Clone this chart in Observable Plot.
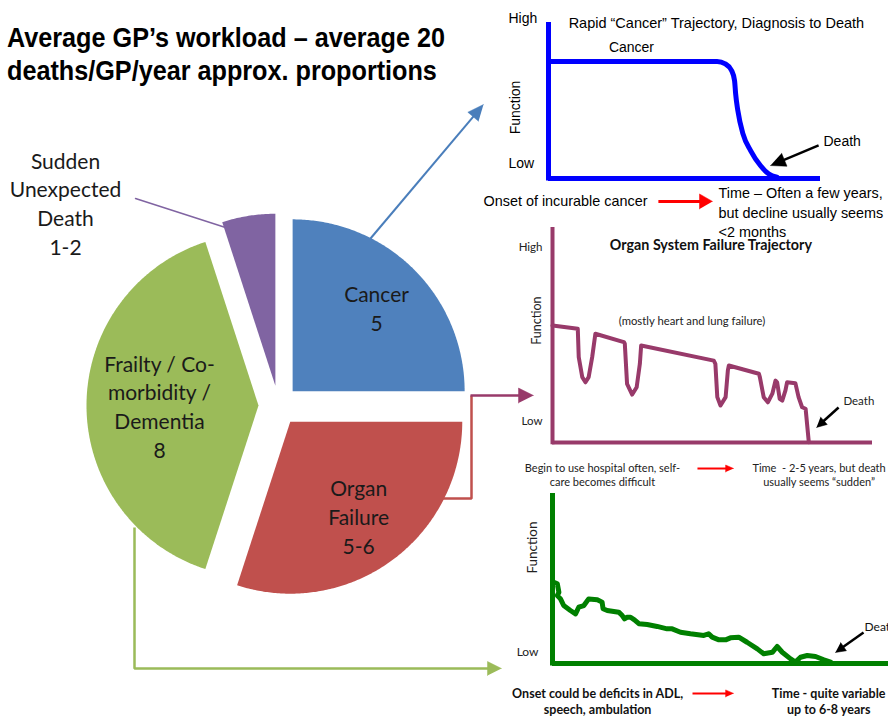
<!DOCTYPE html>
<html><head><meta charset="utf-8">
<script src="https://cdn.jsdelivr.net/npm/d3@7"></script>
<script src="https://cdn.jsdelivr.net/npm/@observablehq/plot@0.6"></script>
<style>
html,body{margin:0;padding:0;background:#fff;}
#root{position:relative;width:888px;height:718px;overflow:hidden;background:#fff;}
.layer{position:absolute;}
#title{position:absolute;left:7px;top:21px;font-family:"Liberation Sans",Arial,sans-serif;font-weight:bold;font-size:28px;line-height:33px;color:#000;transform:scaleX(0.9);transform-origin:0 0;white-space:nowrap;}
</style></head><body>
<div id="root">
  <div id="bg" class="layer" style="left:0;top:0;width:888px;height:718px"></div>
  <div id="title">Average GP’s workload – average 20<br>deaths/GP/year approx. proportions</div>
  <div id="cancer" class="layer" style="left:480px;top:0;width:408px;height:240px"></div>
  <div id="organ" class="layer" style="left:490px;top:220px;width:398px;height:270px"></div>
  <div id="frailty" class="layer" style="left:490px;top:488px;width:398px;height:230px"></div>
</div>
<script>
// ---------------- DATA ----------------
const categories = ["Cancer", "Organ Failure", "Frailty / Co-morbidity / Dementia", "Sudden Unexpected Death"];
const deathsPerGP = [5, 6, 8, 1];
const rangeLabels = ["5", "5-6", "8", "1-2"];
const sliceLabelLines = [["Cancer"], ["Organ", "Failure"], ["Frailty / Co-", "morbidity /", "Dementia"], ["Sudden", "Unexpected", "Death"]];
const sliceColors = ["#4F81BD", "#C0504D", "#9BBB59", "#8064A2"];

// Cancer trajectory (time 0-100, function 0-100)
const cancerTime     = [0, 62, 65, 67.3, 68.4, 68.8, 69.6, 71.5, 74.3, 77.9, 80.9, 84];
const cancerFunction = [75, 75, 73.5, 69.2, 62.8, 54.3, 43.6, 28.6, 17.9, 8.3, 3.0, 0.8];
const cancerTickLabels = ["High", "Low"];
const cancerTickValues = [102.6, 9.6];

// Organ system failure trajectory
const organTime     = [0, 7.9, 8.2, 9.3, 10.3, 11.3, 12.4, 13.4, 22.3, 22.6, 23.3, 24.9, 26.3, 27.3, 27.7, 50.4, 50.9, 51.5, 52.5, 54.1, 54.8, 55.1, 64.5, 64.8, 66.0, 67.3, 68.7, 69.7, 70.2, 71.0, 71.8, 72.8, 73.3, 75.9, 76.9, 78.0, 79.1, 80.1];
const organFunction = [54.4, 52.9, 39.7, 30.4, 28.0, 30.4, 39.7, 50.6, 46.7, 45.9, 27.3, 22.3, 25.7, 36.6, 45.1, 38.1, 36.6, 21.1, 17.2, 21.1, 33.5, 35.8, 32.0, 30.4, 21.1, 18.7, 22.7, 28.8, 28.0, 20.3, 19.5, 24.2, 28.0, 27.6, 21.1, 16.4, 15.7, 0.1];
const organTickLabels = ["High", "Low"];
const organTickValues = [90.7, 9.8];

// Frailty trajectory
const frailTime     = [0.4, 1.5, 2.0, 1.5, 2.5, 3.5, 5.6, 7.2, 8.2, 9.8, 11.3, 14.0, 15.5, 15.8, 17.1, 20.7, 21.8, 22.5, 23.3, 24.4, 25.6, 27.0, 29.6, 32.7, 35.8, 37.4, 40.0, 43.1, 47.3, 48.8, 49.9, 52.0, 54.1, 55.6, 58.2, 60.8, 64.0, 66.0, 68.7, 70.2, 71.8, 74.4, 75.9, 77.5, 79.6, 82.2, 84.8, 86.9];
const frailFunction = [47.8, 46.9, 41.9, 40.0, 38.0, 34.1, 31.2, 29.2, 33.1, 34.1, 38.0, 37.5, 36.1, 32.2, 31.2, 30.2, 28.2, 26.3, 27.2, 27.2, 25.7, 23.4, 22.9, 21.8, 20.4, 20.4, 18.4, 17.5, 16.5, 17.5, 15.5, 13.9, 13.9, 15.1, 15.5, 12.5, 8.6, 5.7, 6.6, 10.0, 6.6, 2.7, 0.8, 3.7, 4.7, 4.1, 2.2, 0.8];
const frailTickLabels = ["Low"];
const frailTickValues = [6.5];

// ---------------- HELPERS ----------------
const pts = (xs, ys) => xs.map((x, i) => ({x, y: ys[i]}));
// polyline with filled triangular head; kx, ky = px per data unit (y up)
function arrow(path, {kx = 1, ky = 1, color, width, headLen, headWid}) {
  const n = path.length, tip = path[n - 1], prev = path[n - 2];
  const dxp = (tip[0] - prev[0]) * kx, dyp = (tip[1] - prev[1]) * ky;
  const L = Math.hypot(dxp, dyp), ux = dxp / L, uy = dyp / L;
  const base = [tip[0] - ux * headLen / kx, tip[1] - uy * headLen / ky];
  const shaft = path.slice(0, n - 1).concat([[base[0] + ux * 1.5 / kx, base[1] + uy * 1.5 / ky]]).map(([x, y]) => ({x, y}));
  const tri = [
    {x: tip[0], y: tip[1]},
    {x: base[0] - uy * headWid / 2 / kx, y: base[1] + ux * headWid / 2 / ky},
    {x: base[0] + uy * headWid / 2 / kx, y: base[1] - ux * headWid / 2 / ky}
  ];
  return [
    Plot.line(shaft, {x: "x", y: "y", stroke: color, strokeWidth: width, strokeLinecap: "butt", strokeLinejoin: "miter"}),
    Plot.line(tri, {x: "x", y: "y", fill: color, stroke: color, strokeWidth: 0.5})
  ];
}

// ---------------- PIE (background layer) ----------------
const CX = 278, CY = 405, R = 172, EXPLODE = 20 / 172;
const U = (px, py) => [(px - CX) / R, (CY - py) / R];
const arcs = d3.pie().sort(null).value(d => d)(deathsPerGP);
const sliceMarks = [];
const labelData = [];
const labelRadius = [0.806, 0.793, 0.692];
arcs.forEach((a, i) => {
  const m = (a.startAngle + a.endAngle) / 2;
  const ox = EXPLODE * Math.sin(m), oy = EXPLODE * Math.cos(m);
  const poly = [{x: ox, y: oy}];
  const n = Math.ceil((a.endAngle - a.startAngle) / 0.01);
  for (let k = 0; k <= n; k++) {
    const t = a.startAngle + (a.endAngle - a.startAngle) * k / n;
    poly.push({x: ox + Math.sin(t), y: oy + Math.cos(t)});
  }
  sliceMarks.push(Plot.line(poly, {x: "x", y: "y", fill: sliceColors[i], stroke: "none"}));
  const text = sliceLabelLines[i].concat([rangeLabels[i]]).join("\n");
  if (i < 3) {
    const r = labelRadius[i];
    labelData.push({x: r * Math.sin(m), y: r * Math.cos(m), text});
  } else {
    const [lx, ly] = U(65, 202);
    labelData.push({x: lx, y: ly, text});
  }
});

const bg = Plot.plot({
  width: 888, height: 718, margin: 0,
  x: {domain: [-CX / R, (888 - CX) / R], axis: null},
  y: {domain: [-(718 - CY) / R, CY / R], axis: null},
  style: {background: "transparent", overflow: "visible"},
  marks: [
    ...sliceMarks,
    Plot.text(labelData, {x: "x", y: "y", text: "text", fontSize: 21, lineHeight: 1.37, fill: "#1a1a1a", fontFamily: "Lato, 'Open Sans', sans-serif"}),
    // leader line to Sudden slice
    Plot.line([U(135, 198), U(225, 227)].map(([x, y]) => ({x, y})), {x: "x", y: "y", stroke: "#8064A2", strokeWidth: 1.5}),
    // connectors
    ...arrow([U(370, 238), U(483, 104)], {kx: R, ky: R, color: "#4A7EBB", width: 2, headLen: 16, headWid: 14}),
    Plot.line([U(442, 498), U(471, 498), U(471, 395)].map(([x, y]) => ({x, y})), {x: "x", y: "y", stroke: "#C0504D", strokeWidth: 2.5, strokeLinejoin: "miter", strokeLinecap: "butt"}),
    ...arrow([U(470, 395), U(533, 395)], {kx: R, ky: R, color: "#983A6A", width: 2.5, headLen: 15, headWid: 15}),
    ...arrow([U(134, 527), U(134, 668), U(501, 668)], {kx: R, ky: R, color: "#9BBB59", width: 2.5, headLen: 14, headWid: 14})
  ]
});
document.getElementById("bg").appendChild(bg);

// ---------------- CANCER TRAJECTORY ----------------
{
  const blue = "#0000FF", F = "'Liberation Sans', Arial, sans-serif";
  const kx = 2.72, ky = 1.56;
  const chart = Plot.plot({
    width: 408, height: 240, marginLeft: 68, marginRight: 68, marginTop: 22, marginBottom: 62,
    x: {domain: [0, 100], axis: null}, y: {domain: [0, 100], axis: null},
    style: {background: "transparent", overflow: "visible", fontFamily: F, fontSize: "14px"},
    marks: [
      Plot.ruleX([0], {y1: -1.6, y2: 100, stroke: blue, strokeWidth: 5}),
      Plot.ruleY([0], {x1: 0, x2: 100, stroke: blue, strokeWidth: 5}),
      Plot.line(pts(cancerTime, cancerFunction), {x: "x", y: "y", stroke: blue, strokeWidth: 5, curve: "monotone-x"}),
      Plot.text(cancerTickLabels, {x: 0, y: (d, i) => cancerTickValues[i], text: d => d, dx: -40, textAnchor: "start", fontSize: 14, fontFamily: F, fill: "#000"}),
      Plot.text(["Function"], {x: -12.1, y: 45.5, text: d => d, rotate: -90, fontSize: 14, fontFamily: F, fill: "#000"}),
      Plot.text(["Rapid “Cancer” Trajectory, Diagnosis to Death"], {x: 7.4, y: 99.4, text: d => d, textAnchor: "start", fontSize: 14.5, fontFamily: F, fill: "#000"}),
      Plot.text(["Cancer"], {x: 30.5, y: 84, text: d => d, fontSize: 14, fontFamily: F, fill: "#000"}),
      Plot.text(["Death"], {x: 101.1, y: 23.7, text: d => d, textAnchor: "start", fontSize: 14, fontFamily: F, fill: "#000"}),
      ...arrow([[99.3, 21.2], [81.6, 8.3]], {kx, ky, color: "#000", width: 2.5, headLen: 15, headWid: 14}),
      Plot.text(["Onset of incurable cancer"], {x: -23.9, y: -14.7, text: d => d, textAnchor: "start", fontSize: 14.4, fontFamily: F, fill: "#000"}),
      ...arrow([[40.4, -14.7], [60.3, -14.7]], {kx, ky, color: "#FF0000", width: 3, headLen: 13, headWid: 15}),
      Plot.text(["Time – Often a few years,\nbut decline usually seems\n<2 months"], {x: 62.5, y: -21.2, text: d => d, textAnchor: "start", lineHeight: 1.36, fontSize: 14.4, fontFamily: F, fill: "#000"})
    ]
  });
  document.getElementById("cancer").appendChild(chart);
}

// ---------------- ORGAN FAILURE TRAJECTORY ----------------
{
  const col = "#983A6A", F = "Lato, 'Open Sans', sans-serif", tc = "#222";
  const kx = 3.2, ky = 2.15;
  const chart = Plot.plot({
    width: 398, height: 270, marginLeft: 62, marginRight: 16, marginTop: 7, marginBottom: 48,
    x: {domain: [0, 100], axis: null}, y: {domain: [0, 100], axis: null},
    style: {background: "transparent", overflow: "visible", fontFamily: F, fontSize: "11px"},
    marks: [
      Plot.ruleX([0], {y1: -1, y2: 100, stroke: col, strokeWidth: 4}),
      Plot.ruleY([0], {x1: 0, x2: 100, stroke: col, strokeWidth: 4}),
      Plot.line(pts(organTime, organFunction), {x: "x", y: "y", stroke: col, strokeWidth: 4}),
      Plot.text(organTickLabels, {x: 0, y: (d, i) => organTickValues[i], text: d => d, dx: -10, textAnchor: "end", fontSize: 11.5, fontFamily: F, fill: tc}),
      Plot.text(["Function"], {x: -4.7, y: 56.7, text: d => d, rotate: -90, fontSize: 12.5, fontFamily: F, fill: tc}),
      Plot.text(["Organ System Failure Trajectory"], {x: 49.5, y: 91.6, text: d => d, fontWeight: "bold", fontSize: 14.3, fontFamily: F, fill: "#111"}),
      Plot.text(["(mostly heart and lung failure)"], {x: 43.6, y: 56.3, text: d => d, fontSize: 11.3, fontFamily: F, fill: tc}),
      Plot.text(["Death"], {x: 90.9, y: 19.1, text: d => d, textAnchor: "start", fontSize: 11.5, fontFamily: F, fill: tc}),
      ...arrow([[89.4, 16.3], [82.5, 7.0]], {kx, ky, color: "#000", width: 2.5, headLen: 10, headWid: 10}),
      Plot.text(["Begin to use hospital often, self-\ncare becomes difficult"], {x: 15.6, y: -14.9, text: d => d, lineHeight: 1.27, fontSize: 11, fontFamily: F, fill: tc}),
      ...arrow([[45.3, -12.1], [56.6, -12.1]], {kx, ky, color: "#FF0000", width: 2, headLen: 8, headWid: 7}),
      Plot.text(["Time  - 2-5 years, but death\nusually seems “sudden”"], {x: 83.3, y: -14.9, text: d => d, lineHeight: 1.27, fontSize: 11, fontFamily: F, fill: tc})
    ]
  });
  document.getElementById("organ").appendChild(chart);
}

// ---------------- FRAILTY TRAJECTORY ----------------
{
  const col = "#008000", F = "Lato, 'Open Sans', sans-serif", tc = "#222";
  const kx = 3.2, ky = 1.7;
  const chart = Plot.plot({
    width: 398, height: 230, marginLeft: 62, marginRight: 0, marginTop: 5, marginBottom: 55,
    x: {domain: [0, 105], axis: null}, y: {domain: [0, 100], axis: null},
    style: {background: "transparent", overflow: "visible", fontFamily: F, fontSize: "11px"},
    marks: [
      Plot.ruleX([0], {y1: -1.5, y2: 100, stroke: col, strokeWidth: 5}),
      Plot.ruleY([0], {x1: 0, x2: 110, stroke: col, strokeWidth: 5}),
      Plot.line(pts(frailTime, frailFunction), {x: "x", y: "y", stroke: col, strokeWidth: 5}),
      Plot.text(frailTickLabels, {x: 0, y: (d, i) => frailTickValues[i], text: d => d, dx: -14, textAnchor: "end", fontSize: 12, fontFamily: F, fill: tc}),
      Plot.text(["Function"], {x: -6.25, y: 68.2, text: d => d, rotate: -90, fontSize: 13.5, fontFamily: F, fill: tc}),
      Plot.text(["Death"], {x: 97.5, y: 21.2, text: d => d, textAnchor: "start", fontSize: 12, fontFamily: F, fill: "#111"}),
      ...arrow([[97.2, 18.2], [88.4, 6.5]], {kx, ky, color: "#000", width: 2.5, headLen: 10, headWid: 10}),
      Plot.text(["Onset could be deficits in ADL,\nspeech, ambulation"], {x: 14.1, y: -21.8, text: d => d, lineHeight: 1.28, fontWeight: "bold", fontSize: 12.5, fontFamily: F, fill: "#111"}),
      ...arrow([[43.75, -17.6], [56.6, -17.6]], {kx, ky, color: "#FF0000", width: 2, headLen: 8, headWid: 7}),
      Plot.text(["Time - quite variable\nup to 6-8 years"], {x: 86.3, y: -21.8, text: d => d, lineHeight: 1.28, fontWeight: "bold", fontSize: 12.5, fontFamily: F, fill: "#111"})
    ]
  });
  document.getElementById("frailty").appendChild(chart);
}
</script>
</body></html>
